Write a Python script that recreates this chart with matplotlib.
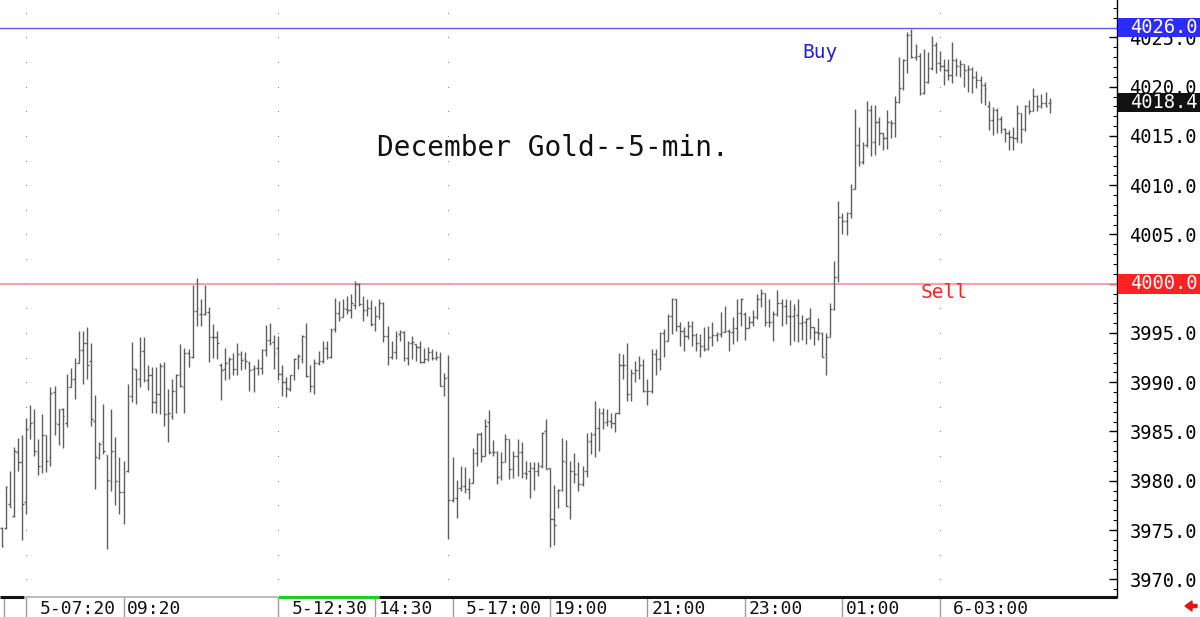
"""December gold 5-min OHLC bar chart with buy/sell levels."""
import matplotlib

matplotlib.use("Agg")
import matplotlib.pyplot as plt
import numpy as np
from matplotlib.patches import Rectangle
from matplotlib.ticker import FormatStrFormatter, MultipleLocator

opens = [
    3975.2, 3975.2, 3977.6, 3976.4, 3982.9, 3981.9, 3977.8, 3985.6, 3986.0, 3982.9,
    3981.5, 3984.6, 3982.4, 3989.0, 3985.8, 3987.3, 3985.9, 3989.5, 3990.3, 3992.0,
    3993.3, 3994.0, 3992.2, 3986.1, 3982.3, 3983.9, 3982.6, 3980.0, 3983.0, 3980.0,
    3978.9, 3981.0, 3988.6, 3991.3, 3990.3, 3993.2, 3990.2, 3990.7, 3988.0, 3988.8,
    3991.6, 3986.8, 3986.6, 3989.1, 3990.8, 3989.5, 3993.0, 3992.6, 3997.2, 3996.9,
    3996.9, 3997.1, 3994.6, 3994.6, 3991.7, 3991.3, 3992.2, 3992.4, 3991.3, 3992.9,
    3992.4, 3992.0, 3991.3, 3991.4, 3991.4, 3993.3, 3994.3, 3994.1, 3993.5, 3990.8,
    3990.0, 3989.3, 3990.7, 3992.5, 3992.4, 3994.6, 3990.6, 3989.6, 3992.0, 3992.2,
    3993.5, 3992.6, 3995.4, 3997.0, 3996.6, 3997.4, 3997.3, 3997.8, 4000.0, 3997.9,
    3997.3, 3997.5, 3995.9, 3996.7, 3998.0, 3994.65, 3992.6, 3993.1, 3994.9, 3995.1,
    3992.5, 3994.0, 3993.9, 3993.6, 3992.1, 3992.35, 3993.1, 3992.5, 3992.6, 3989.6,
    3990.5, 3978.0, 3978.2, 3979.3, 3979.5, 3979.2, 3979.8, 3982.8, 3984.7, 3982.5,
    3986.0, 3982.9, 3982.9, 3980.5, 3981.9, 3984.2, 3981.2, 3982.5, 3982.9, 3980.8,
    3981.0, 3981.25, 3981.0, 3981.45, 3985.0, 3981.25, 3976.1, 3979.0, 3979.1, 3981.9,
    3977.3, 3981.0, 3980.7, 3979.7, 3981.0, 3984.0, 3984.7, 3985.4, 3986.9, 3986.0,
    3986.1, 3985.9, 3986.9, 3991.8, 3991.8, 3988.8, 3990.9, 3991.2, 3991.7, 3989.1,
    3989.1, 3992.9, 3992.4, 3995.0, 3994.2, 3996.7, 3998.5, 3995.7, 3995.2, 3994.7,
    3995.7, 3994.8, 3994.0, 3993.7, 3993.4, 3994.55, 3994.8, 3994.9, 3995.1, 3995.2,
    3995.1, 3995.5, 3997.0, 3996.9, 3995.5, 3996.1, 3996.6, 3998.5, 3999.05, 3996.1,
    3996.1, 3996.9, 3998.0, 3997.7, 3996.75, 3996.7, 3996.8, 3996.0, 3996.1, 3996.5,
    3995.6, 3995.1, 3994.95, 3992.9, 3994.6, 3997.4, 4000.65, 4006.8, 4006.4, 4007.2,
    4009.6, 4014.05, 4012.35, 4014.05, 4017.6, 4014.4, 4016.45, 4015.3, 4014.75, 4016.45,
    4016.3, 4018.4, 4019.9, 4022.7, 4025.2, 4023.0, 4023.1, 4019.35, 4020.5, 4021.9,
    4024.2, 4022.4, 4022.15, 4021.7, 4021.2, 4022.7, 4022.15, 4022.35, 4021.7, 4021.8,
    4021.0, 4020.7, 4020.2, 4018.0, 4016.6, 4017.6, 4016.7, 4015.7, 4015.3, 4014.9,
    4014.75, 4017.3, 4015.7, 4018.05, 4017.5, 4019.1, 4018.0, 4018.3, 4018.3,
]
highs = [
    3975.3, 3979.5, 3981.0, 3983.4, 3984.3, 3984.6, 3986.4, 3987.7, 3987.3, 3984.2,
    3986.8, 3984.6, 3989.5, 3989.6, 3987.3, 3987.4, 3990.8, 3991.4, 3992.5, 3995.2,
    3995.2, 3995.6, 3994.0, 3988.7, 3983.9, 3987.8, 3982.6, 3987.3, 3984.4, 3982.4,
    3982.0, 3989.8, 3994.1, 3991.3, 3994.6, 3994.6, 3991.8, 3991.5, 3991.5, 3992.0,
    3992.1, 3989.3, 3990.3, 3990.8, 3993.9, 3993.5, 3993.4, 3999.9, 4000.6, 3998.5,
    3999.9, 3997.6, 3995.9, 3995.2, 3992.0, 3993.5, 3992.6, 3993.0, 3994.0, 3993.2,
    3993.1, 3992.2, 3991.8, 3992.4, 3993.4, 3995.8, 3996.0, 3994.8, 3994.7, 3991.7,
    3990.5, 3990.7, 3992.5, 3992.9, 3994.8, 3996.0, 3991.8, 3992.4, 3993.2, 3994.2,
    3994.2, 3995.5, 3998.6, 3998.2, 3998.4, 3998.8, 3998.95, 4000.3, 4000.1, 3998.8,
    3998.4, 3998.3, 3997.7, 3998.4, 3998.1, 3995.7, 3994.2, 3995.2, 3995.3, 3995.2,
    3994.2, 3994.7, 3993.9, 3994.2, 3993.5, 3993.6, 3993.4, 3993.2, 3993.1, 3990.9,
    3992.8, 3982.4, 3980.1, 3981.5, 3981.4, 3980.3, 3983.3, 3984.8, 3984.9, 3986.3,
    3987.2, 3984.1, 3983.0, 3982.9, 3984.7, 3984.2, 3983.0, 3984.2, 3983.9, 3982.0,
    3981.9, 3981.9, 3981.9, 3984.9, 3986.3, 3981.25, 3979.6, 3979.15, 3984.3, 3984.1,
    3982.0, 3982.8, 3981.9, 3981.5, 3984.8, 3984.9, 3988.1, 3987.4, 3987.4, 3987.3,
    3986.9, 3986.9, 3993.0, 3992.9, 3994.0, 3991.3, 3992.2, 3992.7, 3992.35, 3990.3,
    3993.4, 3993.4, 3995.1, 3995.4, 3996.9, 3998.6, 3998.5, 3996.1, 3995.6, 3996.2,
    3996.2, 3995.0, 3994.9, 3995.6, 3995.7, 3996.1, 3995.1, 3997.1, 3997.7, 3995.4,
    3996.6, 3998.4, 3998.6, 3997.1, 3996.75, 3997.3, 3998.95, 3999.5, 3999.1, 3998.5,
    3997.2, 3999.4, 3998.5, 3998.4, 3998.3, 3997.9, 3998.5, 3996.8, 3996.5, 3997.5,
    3995.6, 3996.5, 3995.1, 3994.95, 3998.0, 4002.3, 4008.4, 4007.2, 4007.3, 4010.1,
    4017.7, 4015.9, 4014.4, 4018.5, 4018.15, 4018.15, 4016.95, 4015.3, 4017.6, 4016.6,
    4019.1, 4023.0, 4022.8, 4025.6, 4025.9, 4024.3, 4023.45, 4023.8, 4023.5, 4025.15,
    4024.5, 4023.6, 4022.8, 4022.8, 4024.5, 4022.9, 4022.7, 4022.35, 4022.25, 4022.0,
    4021.6, 4021.1, 4020.5, 4018.5, 4017.9, 4017.8, 4017.0, 4015.8, 4015.6, 4015.9,
    4018.15, 4017.3, 4018.15, 4018.7, 4019.9, 4019.2, 4019.3, 4019.5, 4018.85,
]
lows = [
    3973.3, 3975.1, 3977.3, 3976.3, 3981.0, 3974.0, 3976.6, 3984.2, 3982.5, 3980.6,
    3980.8, 3980.9, 3981.5, 3984.6, 3983.6, 3983.3, 3985.5, 3989.5, 3988.3, 3992.0,
    3989.8, 3990.3, 3985.6, 3979.2, 3982.2, 3982.7, 3973.1, 3979.0, 3977.5, 3976.6,
    3975.6, 3980.9, 3988.0, 3987.8, 3989.5, 3990.0, 3989.2, 3986.9, 3986.9, 3986.8,
    3985.6, 3983.9, 3986.3, 3986.9, 3989.5, 3986.9, 3991.5, 3992.5, 3995.7, 3995.7,
    3996.8, 3992.1, 3992.5, 3992.4, 3988.2, 3990.2, 3990.3, 3990.7, 3990.7, 3991.2,
    3991.3, 3989.1, 3989.0, 3990.7, 3990.8, 3992.7, 3993.8, 3991.3, 3990.2, 3988.6,
    3988.5, 3989.1, 3990.2, 3991.3, 3992.0, 3990.5, 3989.0, 3988.8, 3991.7, 3992.0,
    3992.4, 3992.5, 3995.1, 3996.2, 3996.6, 3996.9, 3996.5, 3997.4, 3997.7, 3996.2,
    3996.75, 3995.7, 3995.2, 3996.4, 3994.1, 3991.7, 3992.35, 3992.4, 3994.2, 3992.2,
    3991.8, 3992.35, 3992.2, 3992.0, 3992.0, 3992.2, 3992.3, 3992.3, 3989.6, 3988.6,
    3974.1, 3977.8, 3976.2, 3979.0, 3978.8, 3978.1, 3979.8, 3981.5, 3981.9, 3982.5,
    3982.7, 3982.5, 3979.7, 3980.1, 3981.9, 3980.2, 3980.3, 3980.5, 3980.3, 3980.2,
    3978.3, 3979.1, 3980.5, 3981.25, 3981.2, 3973.3, 3973.5, 3977.2, 3979.0, 3977.4,
    3976.1, 3979.8, 3979.0, 3979.5, 3980.4, 3982.7, 3982.4, 3983.05, 3985.25, 3985.6,
    3985.4, 3984.9, 3986.8, 3990.3, 3988.1, 3988.1, 3990.0, 3990.3, 3989.0, 3987.7,
    3988.9, 3990.7, 3991.2, 3992.6, 3994.2, 3994.9, 3995.2, 3993.7, 3993.2, 3994.4,
    3993.7, 3993.2, 3992.6, 3993.2, 3993.3, 3993.7, 3994.2, 3994.55, 3995.1, 3993.2,
    3993.9, 3994.2, 3995.7, 3994.3, 3995.5, 3995.7, 3996.4, 3997.6, 3995.7, 3995.6,
    3994.2, 3996.75, 3995.7, 3995.9, 3993.8, 3994.2, 3994.1, 3994.3, 3993.9, 3994.4,
    3993.75, 3994.3, 3992.6, 3990.7, 3994.6, 3997.3, 4000.2, 4005.0, 4004.95, 4006.7,
    4009.6, 4012.0, 4012.2, 4013.9, 4013.0, 4013.1, 4014.05, 4013.6, 4013.7, 4014.75,
    4014.9, 4018.3, 4019.7, 4021.4, 4022.9, 4022.7, 4019.2, 4019.3, 4020.4, 4021.7,
    4021.4, 4021.6, 4020.2, 4020.7, 4020.4, 4021.05, 4021.0, 4020.0, 4019.5, 4019.35,
    4019.9, 4018.3, 4018.15, 4015.6, 4015.1, 4015.3, 4015.3, 4014.4, 4013.55, 4013.55,
    4014.4, 4014.3, 4015.5, 4017.2, 4017.5, 4017.5, 4017.8, 4017.9, 4017.3,
]
closes = [
    3973.4, 3979.4, 3977.3, 3983.0, 3981.9, 3977.6, 3985.3, 3985.9, 3983.0, 3981.5,
    3984.6, 3982.0, 3988.9, 3985.9, 3987.3, 3986.6, 3989.5, 3990.3, 3992.0, 3993.3,
    3994.0, 3991.8, 3986.3, 3982.4, 3983.7, 3983.0, 3980.1, 3983.0, 3980.0, 3978.9,
    3980.8, 3988.6, 3991.4, 3990.3, 3993.2, 3990.2, 3990.7, 3988.0, 3988.8, 3991.6,
    3986.8, 3986.9, 3989.1, 3990.7, 3989.6, 3993.0, 3992.6, 3997.2, 3997.5, 3996.9,
    3997.1, 3994.6, 3994.6, 3994.0, 3991.2, 3992.0, 3992.4, 3991.3, 3992.9, 3992.3,
    3992.2, 3991.2, 3991.4, 3991.4, 3993.3, 3994.3, 3994.0, 3993.0, 3990.8, 3990.0,
    3989.4, 3990.7, 3992.4, 3992.7, 3994.7, 3990.6, 3989.6, 3992.0, 3992.2, 3993.5,
    3992.6, 3995.3, 3997.0, 3996.5, 3997.5, 3997.3, 3998.0, 4000.0, 3997.9, 3997.3,
    3997.5, 3995.9, 3996.7, 3998.0, 3994.65, 3992.6, 3993.1, 3994.7, 3995.1, 3992.5,
    3994.0, 3994.1, 3993.6, 3992.1, 3992.35, 3993.1, 3992.5, 3992.6, 3989.6, 3990.4,
    3978.0, 3978.2, 3979.3, 3979.5, 3979.2, 3979.8, 3982.8, 3984.7, 3982.5, 3985.6,
    3982.9, 3982.9, 3980.4, 3981.9, 3984.2, 3981.2, 3982.5, 3982.9, 3980.8, 3980.7,
    3981.25, 3981.0, 3981.45, 3984.8, 3981.2, 3976.1, 3975.5, 3979.1, 3982.0, 3977.4,
    3981.0, 3980.7, 3979.7, 3981.0, 3984.0, 3984.6, 3985.4, 3986.9, 3985.9, 3986.1,
    3985.9, 3986.9, 3991.8, 3991.8, 3988.8, 3990.9, 3991.2, 3991.7, 3989.1, 3989.1,
    3992.9, 3992.4, 3995.0, 3994.2, 3996.7, 3998.5, 3995.7, 3995.2, 3994.65, 3995.7,
    3994.8, 3994.0, 3993.7, 3993.4, 3994.55, 3994.8, 3994.9, 3995.1, 3995.2, 3995.1,
    3995.5, 3997.0, 3998.5, 3995.5, 3996.1, 3996.6, 3998.5, 3999.05, 3996.1, 3996.1,
    3996.9, 3998.0, 3997.7, 3996.75, 3996.7, 3997.4, 3996.0, 3996.1, 3996.4, 3995.6,
    3995.1, 3994.95, 3992.6, 3994.6, 3997.4, 4000.65, 4006.8, 4006.4, 4007.2, 4009.6,
    4014.05, 4012.35, 4014.05, 4017.6, 4014.4, 4016.45, 4015.3, 4014.75, 4016.45, 4016.3,
    4018.4, 4019.9, 4022.7, 4025.2, 4023.0, 4023.1, 4019.35, 4020.5, 4021.9, 4024.2,
    4022.4, 4022.15, 4021.7, 4021.2, 4022.7, 4022.15, 4022.35, 4021.7, 4021.8, 4021.0,
    4020.7, 4020.2, 4019.8, 4016.6, 4017.6, 4016.7, 4015.7, 4015.3, 4014.9, 4014.75,
    4017.3, 4015.7, 4018.05, 4017.5, 4019.1, 4018.0, 4018.3, 4018.0, 4018.4,
]

last_price = 4018.4
buy_level = 4026.0
sell_level = 4000.0

# time-strip separators (bar index) and their labels
session_ticks = [6, 30, 68, 92, 111, 135, 159, 183, 207, 231]
session_labels = ["5-07:20", "09:20", "5-12:30", "14:30", "5-17:00",
                  "19:00", "21:00", "23:00", "01:00", "6-03:00"]
dotted_cols = [6, 68, 110, 231]

MONO = "DejaVu Sans Mono"
W, H = 1200, 617
AX_W = 1117 / W
AX_B = 20 / H

fig = plt.figure(figsize=(W / 100, H / 100), dpi=100)
fig.patch.set_facecolor("white")
ax = fig.add_axes([0, AX_B, AX_W, 1 - AX_B])

x0, x1 = -0.42, 274.6
ax.set_xlim(x0, x1)
ax.set_ylim(3968.2, 4028.8)

idx = np.arange(len(highs))
bar_color = "#5e5e5e"
ax.vlines(idx, lows, highs, color=bar_color, lw=1.0, zorder=3)
ax.hlines(opens, idx - 0.4, idx, color=bar_color, lw=1.0, zorder=3)
ax.hlines(closes, idx, idx + 0.4, color=bar_color, lw=1.0, zorder=3)

# dotted session columns
dot_y = np.arange(3970, 4028, 2.5)
for c in dotted_cols:
    ax.scatter(np.full_like(dot_y, c), dot_y, s=0.8, color="#8a8a8a",
               linewidths=0, zorder=1)

ax.axhline(buy_level, color="#5a5aff", lw=1.0, zorder=2)
ax.axhline(sell_level, color="#ff8c8c", lw=1.2, zorder=2)

ax.text(377 / 1117, 1 - 148 / 597, "December Gold--5-min.", transform=ax.transAxes,
        fontsize=20, family=MONO, va="center", ha="left", color="#111111")
ax.text(802 / 1117, 1 - 52 / 597, "Buy", transform=ax.transAxes,
        fontsize=14, family=MONO, va="center", ha="left", color="#2020e0")
ax.text(921 / 1117, 1 - 293 / 597, "Sell", transform=ax.transAxes,
        fontsize=14, family=MONO, va="center", ha="left", color="#ff2020")

# right price axis
ax.set_xticks([])
ax.yaxis.tick_right()
ax.yaxis.set_major_locator(MultipleLocator(5))
ax.yaxis.set_minor_locator(MultipleLocator(1))
ax.yaxis.set_major_formatter(FormatStrFormatter("%.1f"))
ax.tick_params(axis="y", which="major", direction="in", length=6, width=1,
               pad=9, labelsize=13.5, labelfontfamily=MONO)
ax.tick_params(axis="y", which="minor", direction="in", length=3, width=0.8)
for side in ("top", "left", "bottom"):
    ax.spines[side].set_visible(False)
ax.spines["right"].set_linewidth(1.0)

# highlighted price boxes
ytrans = ax.get_yaxis_transform()
box_w = (W - 1118) / 1117
for level, fc in ((buy_level, "#2c2cff"), (last_price, "#111111"), (sell_level, "#ff2222")):
    ax.add_patch(Rectangle((1.0 + 1 / 1117, level - 1.0), box_w, 2.0, transform=ytrans,
                           facecolor=fc, edgecolor="none", clip_on=False, zorder=5))
    ax.text(1.0 + 13 / 1117, level, f"{level:.1f}", transform=ytrans, color="white",
            fontsize=13.5, family=MONO, va="center", ha="left", clip_on=False, zorder=6)

# time strip
sax = fig.add_axes([0, 0, AX_W, AX_B])
sax.set_xlim(x0, x1)
sax.set_ylim(0, 1)
sax.axis("off")
sax.vlines([0.6] + session_ticks, 0, 1, color="#9c9c9c", lw=1.0)
for t, lab in zip(session_ticks, session_labels):
    off = 3.3 if "-" in lab else 0.9
    sax.text(t + off, 0.42, lab, fontsize=13, family=MONO, va="center", ha="left",
             color="#111111")
top_segments = [(x0, 5.5, "#111111", 2.2), (5.5, 68, "#b0b0b0", 1.2),
                (68, 93, "#22cc22", 2.2), (93, x1, "#111111", 2.2)]
for a, b, col, lw in top_segments:
    sax.plot([a, b], [1, 1], color=col, lw=lw, clip_on=False, solid_capstyle="butt")

fig.patches.append(matplotlib.patches.FancyArrow(
    1197 / W, 11 / H, -12 / W, 0, width=3 / H, head_width=10 / H, head_length=7 / W,
    length_includes_head=True, transform=fig.transFigure, color="#ee1111"))

fig.savefig("out.png", dpi=100, facecolor="white")
plt.close(fig)
